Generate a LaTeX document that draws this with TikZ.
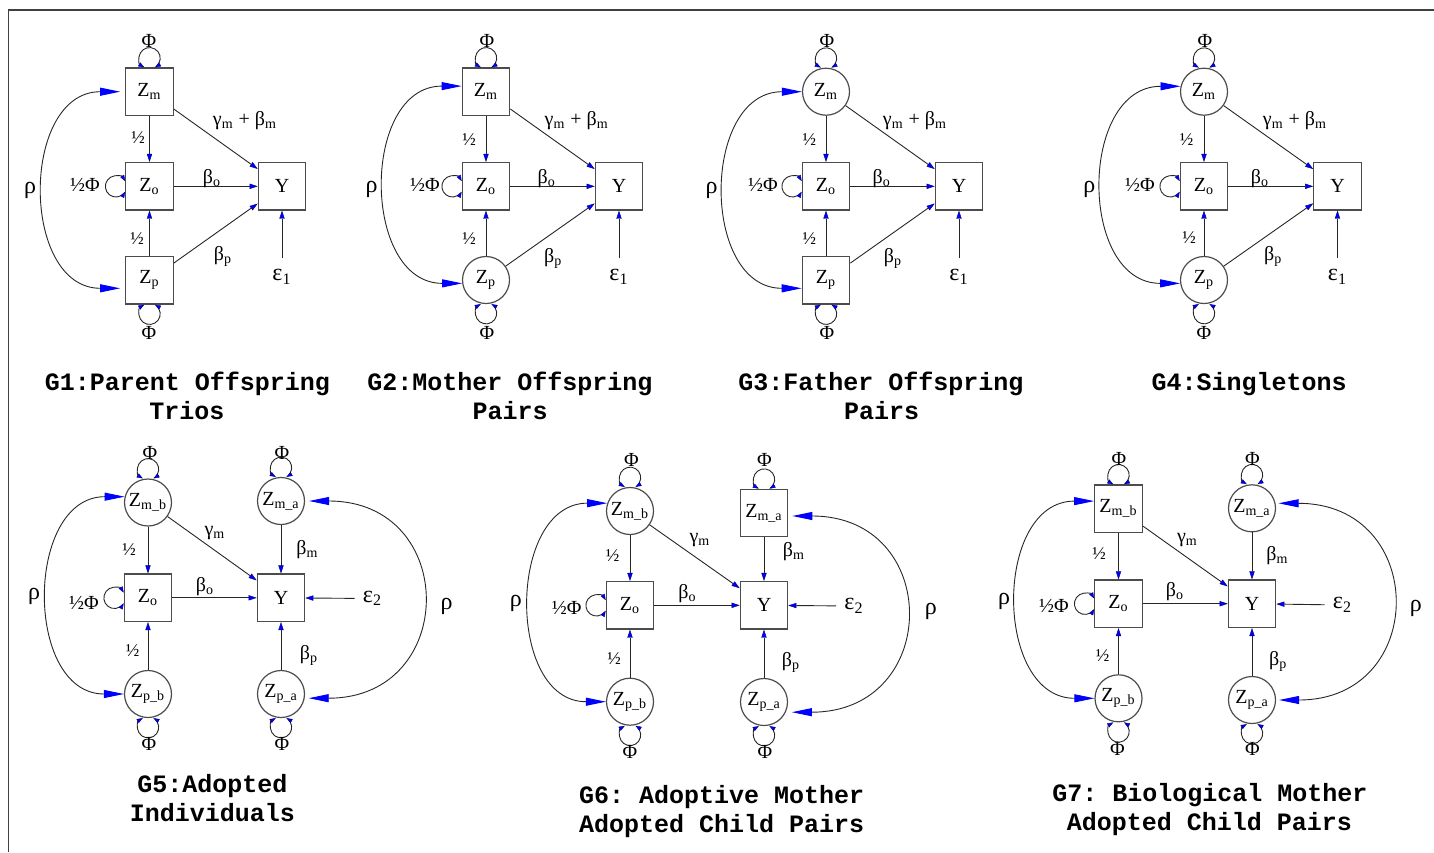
\documentclass[tikz,border=0pt]{standalone}
\usepackage{fontspec}
\setmainfont{Liberation Serif}
\newfontfamily\ttlfont{Liberation Mono}
\usetikzlibrary{arrows.meta}
\tikzset{
  smtip/.tip={Triangle[color=blue!45!black,fill=blue,length=4pt,width=2.6pt,line width=0.2pt]},
  lptip/.tip={Triangle[color=blue!45!black,fill=blue,length=3pt,width=2.2pt,line width=0.2pt]},
  bigtip/.tip={Triangle[color=blue,fill=blue,length=10pt,width=4pt]},
  nbox/.style={draw=black!70,line width=0.6pt,minimum size=23.75pt,inner sep=0pt,font=\fontsize{10}{11}\selectfont},
  ncirc/.style={circle,draw=black!70,line width=0.6pt,minimum size=23.5pt,inner sep=0pt,font=\fontsize{10}{11}\selectfont},
  lbl/.style={inner sep=0pt,font=\fontsize{10}{12}\selectfont},
  halflbl/.style={inner sep=0pt,font=\fontsize{9}{10}\selectfont},
  biglbl/.style={inner sep=0pt,font=\fontsize{12}{14}\selectfont},
  ttl/.style={inner sep=0pt,anchor=base,font=\ttlfont\bfseries\frenchspacing\fontsize{12.5}{15}\selectfont},
  conn/.style={draw=black!85,line width=0.45pt,-smtip},
  lp/.style={draw=black!85,line width=0.45pt,lptip-lptip},
  rhoc/.style={draw=black!85,line width=0.45pt,bigtip-bigtip},
}
\newcommand\myloopT[1]{\draw[lp] ([xshift=-2.6pt]#1.north) arc[start angle=240,end angle=-60,radius=5.3pt];}
\newcommand\myloopB[1]{\draw[lp] ([xshift=-2.6pt]#1.south) arc[start angle=120,end angle=420,radius=5.3pt];}
\newcommand\myloopL[1]{\draw[lp] ([yshift=2.6pt]#1.west) arc[start angle=30,end angle=330,radius=5.3pt];}
\begin{document}
\begin{tikzpicture}[x=0.5pt,y=0.5pt]
\useasboundingbox (0,0) rectangle (1434,-852);
\draw[draw=black!75,line width=0.65pt] (8.5,-852) -- (8.5,-10) -- (1434,-10);

% ---------------- G1 ----------------
\node[nbox] (aZm) at (149.5,-91.7) {Z\textsubscript{m}};
\node[nbox] (aZo) at (149.5,-186.3) {Z\textsubscript{o}};
\node[nbox] (aZp) at (149.5,-280.3) {Z\textsubscript{p}};
\node[nbox] (aY) at (282,-186.3) {Y};
\node[biglbl] (aE) at (282,-277) {ε\textsubscript{1}};
\draw[conn] (aZm) -- (aZo);
\draw[conn] (aZp) -- (aZo);
\draw[conn] (aZm) -- (aY);
\draw[conn] (aZo) -- (aY);
\draw[conn] (aZp) -- (aY);
\draw[conn,shorten <=5.5pt] (aE) -- (aY);
\myloopT{aZm} \myloopB{aZp} \myloopL{aZo}
\node[lbl] (aPt) at (149,-40.5) {Φ};
\node[lbl] (aPb) at (149,-333) {Φ};
\node[lbl] (aPo) at (85,-185) {½Φ};
\node[biglbl] (aR) at (30,-190) {ρ};
\node[halflbl] (aH1) at (138,-137.5) {½};
\node[halflbl] (aH2) at (137,-238.3) {½};
\node[lbl] (aGm) at (245,-121) {γ\textsubscript{m} + β\textsubscript{m}};
\node[lbl] (aBo) at (212,-179) {β\textsubscript{o}};
\node[lbl] (aBp) at (223,-256.7) {β\textsubscript{p}};
\draw[rhoc] ([xshift=-2.5pt]aZm.west) .. controls +(-100,0) and +(-100,0) .. ([xshift=-2.5pt,yshift=-4pt]aZp.west);
\node[ttl] (aT1) at (187.5,-390) {G1:Parent Offspring};
\node[ttl] (aT2) at (187,-419.5) {Trios};

% ---------------- G2 ----------------
\node[nbox] (bZm) at (486,-91.7) {Z\textsubscript{m}};
\node[nbox] (bZo) at (486,-186.3) {Z\textsubscript{o}};
\node[ncirc] (bZp) at (486,-280) {Z\textsubscript{p}};
\node[nbox] (bY) at (619,-186.3) {Y};
\node[biglbl] (bE) at (619,-277) {ε\textsubscript{1}};
\draw[conn] (bZm) -- (bZo);
\draw[conn] (bZp) -- (bZo);
\draw[conn] (bZm) -- (bY);
\draw[conn] (bZo) -- (bY);
\draw[conn] (bZp) -- (bY);
\draw[conn,shorten <=5.5pt] (bE) -- (bY);
\myloopT{bZm} \myloopB{bZp} \myloopL{bZo}
\node[lbl] (bPt) at (487,-40.5) {Φ};
\node[lbl] (bPb) at (487,-333) {Φ};
\node[lbl] (bPo) at (425,-185) {½Φ};
\node[biglbl] (bR) at (371.7,-189) {ρ};
\node[halflbl] (bH1) at (469,-140) {½};
\node[halflbl] (bH2) at (469,-239) {½};
\node[lbl] (bGm) at (576.7,-121) {γ\textsubscript{m} + β\textsubscript{m}};
\node[lbl] (bBo) at (546.7,-179) {β\textsubscript{o}};
\node[lbl] (bBp) at (553.3,-258) {β\textsubscript{p}};
\draw[rhoc] ([yshift=2.8pt]bZm.west) .. controls +(-101,0) and +(-101,0) .. (bZp.188);
\node[ttl] (bT1) at (510,-390) {G2:Mother Offspring};
\node[ttl] (bT2) at (510,-419) {Pairs};

% ---------------- G3 ----------------
\node[ncirc] (cZm) at (826,-91.7) {Z\textsubscript{m}};
\node[nbox] (cZo) at (826,-186.3) {Z\textsubscript{o}};
\node[nbox] (cZp) at (826,-280.3) {Z\textsubscript{p}};
\node[nbox] (cY) at (959,-186.3) {Y};
\node[biglbl] (cE) at (959,-277) {ε\textsubscript{1}};
\draw[conn] (cZm) -- (cZo);
\draw[conn] (cZp) -- (cZo);
\draw[conn] (cZm) -- (cY);
\draw[conn] (cZo) -- (cY);
\draw[conn] (cZp) -- (cY);
\draw[conn,shorten <=5.5pt] (cE) -- (cY);
\myloopT{cZm} \myloopB{cZp} \myloopL{cZo}
\node[lbl] (cPt) at (827,-40.5) {Φ};
\node[lbl] (cPb) at (827,-333) {Φ};
\node[lbl] (cPo) at (763,-185) {½Φ};
\node[biglbl] (cR) at (711.7,-190) {ρ};
\node[halflbl] (cH1) at (809.3,-140) {½};
\node[halflbl] (cH2) at (809.3,-239) {½};
\node[lbl] (cGm) at (915,-121) {γ\textsubscript{m} + β\textsubscript{m}};
\node[lbl] (cBo) at (881.7,-179) {β\textsubscript{o}};
\node[lbl] (cBp) at (893,-258) {β\textsubscript{p}};
\draw[rhoc] (cZm.west) .. controls +(-101,0) and +(-101,0) .. ([yshift=-4pt]cZp.west);
\node[ttl] (cT1) at (881,-390) {G3:Father Offspring};
\node[ttl] (cT2) at (881.5,-419) {Pairs};

% ---------------- G4 ----------------
\node[ncirc] (dZm) at (1204,-91.7) {Z\textsubscript{m}};
\node[nbox] (dZo) at (1204,-186.3) {Z\textsubscript{o}};
\node[ncirc] (dZp) at (1204,-280) {Z\textsubscript{p}};
\node[nbox] (dY) at (1337.5,-186.3) {Y};
\node[biglbl] (dE) at (1337.5,-277) {ε\textsubscript{1}};
\draw[conn] (dZm) -- (dZo);
\draw[conn] (dZp) -- (dZo);
\draw[conn] (dZm) -- (dY);
\draw[conn] (dZo) -- (dY);
\draw[conn] (dZp) -- (dY);
\draw[conn,shorten <=5.5pt] (dE) -- (dY);
\myloopT{dZm} \myloopB{dZp} \myloopL{dZo}
\node[lbl] (dPt) at (1205,-40.5) {Φ};
\node[lbl] (dPb) at (1204,-333) {Φ};
\node[lbl] (dPo) at (1140,-185) {½Φ};
\node[biglbl] (dR) at (1089.3,-189) {ρ};
\node[halflbl] (dH1) at (1186.7,-140) {½};
\node[halflbl] (dH2) at (1189,-238) {½};
\node[lbl] (dGm) at (1295,-121) {γ\textsubscript{m} + β\textsubscript{m}};
\node[lbl] (dBo) at (1260,-179) {β\textsubscript{o}};
\node[lbl] (dBp) at (1273.3,-256) {β\textsubscript{p}};
\draw[rhoc] (dZm.167) .. controls +(-102,0) and +(-102,0) .. (dZp.188);
\node[ttl] (dT1) at (1249,-390) {G4:Singletons};

% ---------------- G5 ----------------
\node[ncirc] (eZmb) at (148,-502.5) {Z\textsubscript{m\_b}};
\node[ncirc] (eZma) at (281,-501) {Z\textsubscript{m\_a}};
\node[nbox] (eZo) at (148,-597.8) {Z\textsubscript{o}};
\node[nbox] (eY) at (281,-597.8) {Y};
\node[ncirc] (eZpb) at (148,-694) {Z\textsubscript{p\_b}};
\node[ncirc] (eZpa) at (281,-694) {Z\textsubscript{p\_a}};
\node[biglbl] (eE) at (372.5,-598.5) {ε\textsubscript{2}};
\draw[conn] (eZmb) -- (eZo);
\draw[conn] (eZpb) -- (eZo);
\draw[conn] (eZmb) -- (eY);
\draw[conn] (eZo) -- (eY);
\draw[conn] (eZma) -- (eY);
\draw[conn] (eZpa) -- (eY);
\draw[conn,shorten <=4pt] (eE) -- (eY);
\myloopT{eZmb} \myloopT{eZma} \myloopB{eZpb} \myloopB{eZpa} \myloopL{eZo}
\node[lbl] (ePt1) at (150,-452.5) {Φ};
\node[lbl] (ePt2) at (282,-452.5) {Φ};
\node[lbl] (ePb1) at (149,-744) {Φ};
\node[lbl] (ePb2) at (282,-744) {Φ};
\node[lbl] (ePo) at (84,-602.5) {½Φ};
\node[biglbl] (eR1) at (34,-596.7) {ρ};
\node[biglbl] (eR2) at (446.7,-606.7) {ρ};
\node[halflbl] (eH1) at (129,-549.2) {½};
\node[halflbl] (eH2) at (132.5,-650.8) {½};
\node[lbl] (eGm) at (215,-533.3) {γ\textsubscript{m}};
\node[lbl] (eBm) at (307.5,-550) {β\textsubscript{m}};
\node[lbl] (eBo) at (205,-586.7) {β\textsubscript{o}};
\node[lbl] (eBp) at (309,-655) {β\textsubscript{p}};
\draw[rhoc] (eZmb.166) .. controls +(-100,0) and +(-100,0) .. (eZpb.west);
\draw[rhoc] ([xshift=2pt]eZma.east) .. controls +(150,0) and +(150,0) .. ([xshift=2pt]eZpa.-10);
\node[ttl] (eT1) at (212.5,-792.5) {G5:Adopted};
\node[ttl] (eT2) at (212.5,-821.7) {Individuals};

% ---------------- G6 ----------------
\node[ncirc] (fZmb) at (630,-511) {Z\textsubscript{m\_b}};
\node[nbox] (fZma) at (764,-513) {Z\textsubscript{m\_a}};
\node[nbox] (fZo) at (630,-605.3) {Z\textsubscript{o}};
\node[nbox] (fY) at (764,-605.3) {Y};
\node[ncirc] (fZpb) at (630,-701.7) {Z\textsubscript{p\_b}};
\node[ncirc] (fZpa) at (764,-702) {Z\textsubscript{p\_a}};
\node[biglbl] (fE) at (854,-606) {ε\textsubscript{2}};
\draw[conn] (fZmb) -- (fZo);
\draw[conn] (fZpb) -- (fZo);
\draw[conn] (fZmb) -- (fY);
\draw[conn] (fZo) -- (fY);
\draw[conn] (fZma) -- (fY);
\draw[conn] (fZpa) -- (fY);
\draw[conn,shorten <=4pt] (fE) -- (fY);
\myloopT{fZmb} \myloopT{fZma} \myloopB{fZpb} \myloopB{fZpa} \myloopL{fZo}
\node[lbl] (fPt1) at (631.5,-460) {Φ};
\node[lbl] (fPt2) at (764.5,-460) {Φ};
\node[lbl] (fPb1) at (630,-751.7) {Φ};
\node[lbl] (fPb2) at (765,-752) {Φ};
\node[lbl] (fPo) at (566.7,-607.5) {½Φ};
\node[biglbl] (fR1) at (515.8,-603.3) {ρ};
\node[biglbl] (fR2) at (930.8,-611.7) {ρ};
\node[halflbl] (fH1) at (612.5,-555.8) {½};
\node[halflbl] (fH2) at (614,-659) {½};
\node[lbl] (fGm) at (700,-540) {γ\textsubscript{m}};
\node[lbl] (fBm) at (794,-551.7) {β\textsubscript{m}};
\node[lbl] (fBo) at (687.5,-593.3) {β\textsubscript{o}};
\node[lbl] (fBp) at (791,-662.5) {β\textsubscript{p}};
\draw[rhoc] (fZmb.161) .. controls +(-100,0) and +(-100,0) .. (fZpb.west);
\draw[rhoc] ([xshift=2pt,yshift=-1.5pt]fZma.east) .. controls +(150,0) and +(150,0) .. ([xshift=3pt]fZpa.-25);
\node[ttl] (fT1) at (721.7,-803.3) {G6: Adoptive Mother};
\node[ttl] (fT2) at (721.7,-832.7) {Adopted Child Pairs};

% ---------------- G7 ----------------
\node[nbox] (gZmb) at (1118.5,-508.7) {Z\textsubscript{m\_b}};
\node[ncirc] (gZma) at (1252,-508.3) {Z\textsubscript{m\_a}};
\node[nbox] (gZo) at (1118.5,-603.7) {Z\textsubscript{o}};
\node[nbox] (gY) at (1252,-603.7) {Y};
\node[ncirc] (gZpb) at (1118.5,-698.3) {Z\textsubscript{p\_b}};
\node[ncirc] (gZpa) at (1252,-700) {Z\textsubscript{p\_a}};
\node[biglbl] (gE) at (1342.5,-605) {ε\textsubscript{2}};
\draw[conn] (gZmb) -- (gZo);
\draw[conn] (gZpb) -- (gZo);
\draw[conn] (gZmb) -- (gY);
\draw[conn] (gZo) -- (gY);
\draw[conn] (gZma) -- (gY);
\draw[conn] (gZpa) -- (gY);
\draw[conn,shorten <=4pt] (gE) -- (gY);
\myloopT{gZmb} \myloopT{gZma} \myloopB{gZpb} \myloopB{gZpa} \myloopL{gZo}
\node[lbl] (gPt1) at (1119,-459.2) {Φ};
\node[lbl] (gPt2) at (1252.5,-459) {Φ};
\node[lbl] (gPb1) at (1117.5,-749) {Φ};
\node[lbl] (gPb2) at (1252.5,-749) {Φ};
\node[lbl] (gPo) at (1054,-605.8) {½Φ};
\node[biglbl] (gR1) at (1004,-601.7) {ρ};
\node[biglbl] (gR2) at (1415.8,-608.3) {ρ};
\node[halflbl] (gH1) at (1099,-554) {½};
\node[halflbl] (gH2) at (1102.5,-655.8) {½};
\node[lbl] (gGm) at (1187.5,-540) {γ\textsubscript{m}};
\node[lbl] (gBm) at (1277.5,-555.8) {β\textsubscript{m}};
\node[lbl] (gBo) at (1175,-591.7) {β\textsubscript{o}};
\node[lbl] (gBp) at (1278.3,-661.7) {β\textsubscript{p}};
\draw[rhoc] ([yshift=3.8pt]gZmb.west) .. controls +(-101,0) and +(-101,0) .. (gZpb.west);
\draw[rhoc] ([xshift=1.5pt]gZma.12) .. controls +(150,0) and +(150,0) .. ([xshift=1.5pt]gZpa.east);
\node[ttl] (gT1) at (1210,-801.7) {G7: Biological Mother};
\node[ttl] (gT2) at (1209.3,-830.7) {Adopted Child Pairs};
\end{tikzpicture}
\end{document}
